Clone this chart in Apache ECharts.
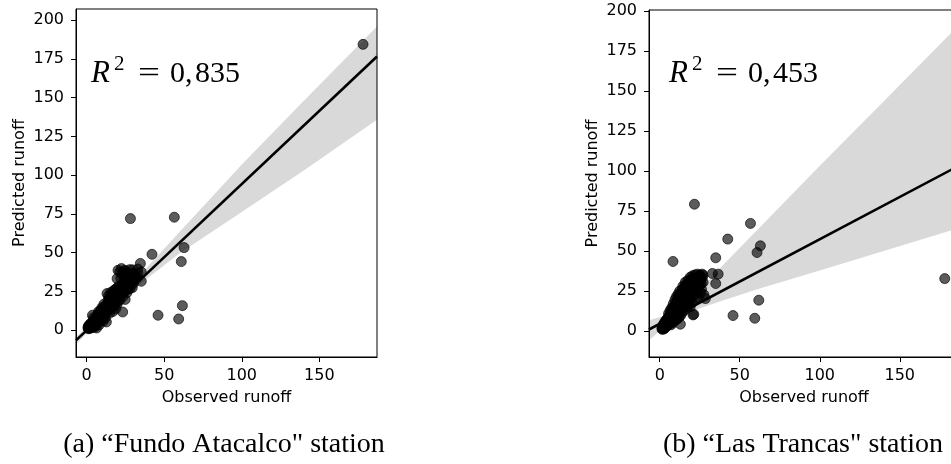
<!DOCTYPE html>
<html>
<head>
<meta charset="utf-8">
<script src="https://cdn.jsdelivr.net/npm/echarts@6/dist/echarts.min.js"></script>
<style>
  html, body { margin: 0; padding: 0; background: #fff; }
  #chart { width: 951px; height: 464px; }
</style>
</head>
<body>
<div id="chart"></div>
<script>
const xTicks = [0, 50, 100, 150];
const yTicks = [0, 25, 50, 75, 100, 125, 150, 175, 200];

// (a) "Fundo Atacalco" - [observed, predicted]
const pointsA = [
  [0.8, 1.6], [1.0, 2.3], [1.1, 1.0], [1.3, 3.0], [1.5, 1.8], [1.6, 2.6], [1.8, 1.2], [1.9, 3.4],
  [2.0, 2.1], [2.2, 4.0], [2.3, 1.5], [2.5, 2.8], [2.6, 3.6], [2.8, 1.9], [2.9, 4.5], [3.0, 2.4],
  [3.2, 3.2], [3.3, 5.0], [3.5, 1.7], [3.6, 3.9], [3.7, 9.7], [3.8, 2.9], [4.0, 4.6], [4.1, 5.6],
  [4.2, 3.4], [4.4, 8.1], [4.5, 2.6], [4.6, 4.9], [4.8, 6.3], [4.9, 3.8], [5.1, 5.5], [5.2, 2.1],
  [5.3, 7.0], [5.5, 4.4], [5.6, 6.1], [5.8, 3.3], [5.9, 7.7], [6.1, 5.2], [6.3, 6.8], [6.4, 1.5],
  [6.5, 4.3], [6.6, 8.5], [6.8, 6.0], [7.0, 7.4], [7.1, 10.2], [7.3, 5.4], [7.5, 8.8], [7.6, 12.0],
  [7.8, 6.7], [8.0, 9.5], [8.1, 3.6], [8.3, 7.9], [8.4, 11.3], [8.6, 8.6], [8.8, 6.2], [8.9, 10.4],
  [9.1, 13.0], [9.3, 8.0], [9.4, 9.6], [9.6, 11.8], [9.8, 14.6], [10.0, 7.3], [10.1, 10.9], [10.3, 12.7],
  [10.5, 9.2], [10.6, 5.9], [10.8, 13.9], [11.0, 11.1], [11.1, 16.8], [11.3, 8.8], [11.5, 12.4], [11.7, 14.9],
  [11.9, 10.3], [12.0, 7.9], [12.2, 13.6], [12.4, 16.1], [12.5, 11.5], [12.7, 5.4], [12.9, 14.4],
  [13.1, 23.7], [13.2, 12.3], [13.4, 17.3], [13.6, 15.1], [13.8, 19.6], [14.0, 13.2], [14.1, 22.2], [14.3, 16.4],
  [14.5, 18.5], [14.7, 11.0], [14.9, 20.7], [15.1, 14.8], [15.3, 17.6], [15.5, 24.4], [15.7, 19.3], [15.9, 13.6],
  [16.1, 21.5], [16.3, 16.7], [16.5, 23.1], [16.7, 18.4], [16.9, 12.1], [17.1, 20.2], [17.3, 25.3], [17.5, 15.4],
  [17.7, 22.7], [17.9, 19.0], [18.1, 26.2], [18.3, 17.2], [18.5, 21.0], [18.7, 13.9], [18.9, 23.9], [19.1, 19.8],
  [19.3, 27.0], [19.5, 16.5], [19.7, 22.4], [20.0, 25.6], [20.2, 18.6], [20.4, 23.0], [20.6, 28.4], [20.8, 21.2],
  [21.1, 24.8], [21.3, 37.6], [21.5, 19.6], [21.8, 27.1], [22.1, 22.9], [22.4, 39.8], [22.6, 25.9], [22.9, 29.8],
  [23.2, 11.8], [23.4, 21.8], [23.7, 27.3], [24.0, 24.6], [24.3, 30.9], [24.5, 38.7], [24.5, 33.4], [24.8, 19.9],
  [25.1, 26.6], [25.4, 29.0], [25.6, 34.4], [25.9, 24.2], [26.2, 28.3], [26.5, 31.7], [26.9, 26.4], [27.3, 29.6],
  [27.7, 39.1], [28.0, 27.0], [28.5, 31.0], [28.8, 34.4], [29.4, 27.5], [30.0, 30.2], [30.9, 32.3], [19.6, 33.3],
  [20.2, 38.7], [23.0, 36.2], [26.3, 37.2], [30.2, 36.8], [33.0, 39.5], [34.6, 43.1], [35.2, 37.6], [35.2, 31.6],
  [32.5, 34.0],
  [2.0, 3.0], [3.0, 3.5], [4.0, 4.0], [5.0, 5.0], [6.0, 6.5], [7.0, 8.0], [8.0, 8.2], [9.0, 9.0],
  [10.0, 10.2], [11.0, 12.5], [12.0, 12.0], [13.0, 14.0], [14.0, 15.5], [15.0, 16.0], [16.0, 17.5], [17.0, 18.0],
  [18.0, 19.5], [19.0, 21.0], [20.0, 21.5], [21.0, 22.5], [22.0, 24.0], [23.0, 24.5], [24.0, 26.5], [25.0, 27.0],
  [26.0, 29.5], [27.0, 30.5], [28.0, 33.0], [29.0, 36.0], [31.0, 35.5], [33.0, 36.5], [22.0, 33.5], [25.0, 38.0],
  [29.5, 39.0],
  [28.2, 72.0], [56.5, 72.9], [62.8, 53.3], [61.0, 44.3], [42.1, 49.0], [46.0, 9.7], [59.3, 7.3], [61.7, 15.9],
  [178.2, 184.3],
];
const fitXA = [-6.9, 187.2];
const fitYA = [-6.5, 176.5];
const bandXA = [-6.9, 0, 10, 20, 40, 60, 100, 140, 187.2];
const bandUpA = [-4.0, 1.8, 10.9, 20.7, 41.7, 63.6, 106.8, 148.0, 195.9];
const bandLoA = [-9.0, -2.0, 7.9, 17.1, 34.2, 49.6, 76.3, 103.0, 135.7];

// (b) "Las Trancas" - [observed, predicted]
const pointsB = [
  [1.4, 1.2], [1.5, 2.1], [1.6, 1.5], [1.7, 2.8], [1.8, 1.0], [1.9, 1.9], [2.0, 3.3], [2.1, 1.4],
  [2.2, 2.5], [2.3, 4.0], [2.4, 1.7], [2.5, 3.0], [2.6, 2.2], [2.7, 4.6], [2.8, 1.3], [2.9, 3.5],
  [3.0, 2.6], [3.1, 5.2], [3.2, 1.9], [3.3, 4.1], [3.4, 3.0], [3.5, 6.0], [3.6, 2.3], [3.7, 4.8],
  [3.8, 3.6], [3.9, 6.6], [4.0, 2.8], [4.2, 5.4], [4.3, 4.1], [4.5, 7.2], [4.6, 3.3], [4.8, 6.0],
  [4.9, 4.7], [5.1, 8.0], [5.2, 3.6], [5.4, 6.7], [5.5, 5.2], [5.7, 9.0], [5.9, 4.3], [6.0, 7.5],
  [6.2, 5.8], [6.3, 10.1], [6.5, 8.2], [6.7, 4.9], [6.9, 11.2], [7.0, 7.0], [7.2, 9.3], [7.4, 12.5],
  [7.6, 6.2], [7.8, 10.5], [8.0, 8.4], [8.1, 13.6], [8.3, 43.4], [8.4, 7.1], [8.6, 11.8], [8.8, 15.0],
  [9.0, 9.5], [9.2, 13.1], [9.4, 6.6], [9.6, 16.3], [9.8, 10.9], [10.0, 14.4], [10.2, 8.3], [10.4, 17.6],
  [10.6, 12.2], [10.8, 19.0], [11.0, 15.6], [11.2, 9.4], [11.4, 20.3], [11.6, 13.7], [11.8, 17.2], [12.0, 22.1],
  [12.2, 11.0], [12.4, 18.8], [12.6, 15.0], [12.9, 4.2], [12.9, 22.3], [13.1, 20.4], [13.3, 13.2], [13.5, 24.0],
  [13.8, 17.8], [14.0, 26.0], [14.3, 21.6], [14.6, 15.4], [14.9, 24.7], [15.2, 19.1], [15.5, 27.4], [15.8, 22.8],
  [16.1, 16.8], [16.4, 28.6], [16.7, 25.3], [17.0, 20.3], [17.3, 29.0], [17.7, 28.6], [18.0, 23.5], [18.3, 31.2],
  [18.6, 26.8], [18.9, 18.6], [19.2, 30.0], [19.5, 24.6], [19.8, 32.1], [20.1, 27.9], [20.4, 21.4], [20.8, 10.0],
  [21.3, 10.4], [20.7, 30.8], [21.0, 33.0], [21.4, 25.8], [21.7, 79.2], [21.8, 29.3], [22.2, 32.6], [22.6, 23.4],
  [23.0, 30.7], [23.4, 33.4], [23.8, 27.5], [24.2, 31.5], [24.7, 34.1], [25.1, 28.8], [25.6, 32.3], [26.1, 26.0],
  [26.6, 33.2], [27.1, 30.4], [27.6, 22.6], [28.5, 20.2],
  [5.5, 10.8], [6.5, 12.8], [7.5, 14.5], [8.5, 17.0], [9.5, 19.5], [10.5, 21.5], [11.5, 23.0], [12.5, 25.0],
  [7.0, 3.8], [8.0, 5.0], [9.0, 6.0], [10.0, 6.8], [11.0, 7.5], [12.0, 8.5], [13.0, 9.5], [14.0, 11.5],
  [15.0, 12.5], [16.0, 14.0], [17.0, 15.5], [18.0, 16.0], [19.0, 15.0], [20.0, 17.5], [22.0, 19.5], [24.0, 21.0],
  [25.5, 24.0], [14.5, 28.0], [16.0, 30.5], [17.5, 31.5], [19.0, 33.5], [20.5, 34.5], [22.0, 35.0], [23.5, 35.5],
  [25.0, 35.0], [26.5, 35.5], [27.0, 34.8], [24.0, 25.5], [26.0, 29.5], [22.5, 28.0], [20.0, 24.5], [18.0, 21.0],
  [16.0, 19.0], [14.0, 18.5], [12.0, 15.5], [10.0, 12.0], [8.0, 9.0], [6.0, 6.5], [4.0, 4.5], [3.0, 3.8],
  [32.9, 35.9], [35.0, 45.7], [35.0, 29.6], [36.5, 35.5],
  [178.1, 32.7], [56.7, 67.2], [42.5, 57.4], [62.9, 53.2], [60.8, 49.0], [61.9, 19.2], [45.8, 9.6], [59.4, 7.9],
];
const fitXB = [-6.7, 187.0];
const fitYB = [0.9, 103.3];
const bandXB = [-6.7, 0, 10, 20, 40, 60, 100, 140, 187.0];
const bandUpB = [6.7, 8.6, 11.9, 20.5, 41.6, 62.1, 103.3, 143.5, 191.3];
const bandLoB = [-5.8, -0.2, 7.5, 12.5, 19.1, 25.8, 37.8, 50.0, 64.3];

const tickFont = { color: '#000', fontFamily: 'DejaVu Sans', fontSize: 16 };

function makeXAxis(gridIndex, min, max) {
  return {
    type: 'value', gridIndex, min, max,
    name: 'Observed runoff', nameLocation: 'middle', nameGap: 33,
    nameTextStyle: tickFont,
    axisLine: { show: true, onZero: false, lineStyle: { color: '#000', width: 1 } },
    axisTick: { show: true, length: 5, customValues: xTicks, lineStyle: { color: '#000', width: 1 } },
    axisLabel: { ...tickFont, margin: 11, customValues: xTicks },
    splitLine: { show: false },
  };
}

function makeYAxis(gridIndex, min, max) {
  return {
    type: 'value', gridIndex, min, max,
    name: 'Predicted runoff', nameLocation: 'middle', nameGap: 48,
    nameTextStyle: tickFont,
    axisLine: { show: true, onZero: false, lineStyle: { color: '#000', width: 1 } },
    axisTick: { show: true, length: 5, customValues: yTicks, lineStyle: { color: '#000', width: 1 } },
    axisLabel: { ...tickFont, margin: 12, customValues: yTicks },
    splitLine: { show: false },
  };
}

function bandSeries(idx, xs, up, lo) {
  return {
    type: 'custom', xAxisIndex: idx, yAxisIndex: idx, silent: true, z: 1,
    data: [[0, 0]],
    renderItem: (params, api) => {
      const top = xs.map((x, i) => api.coord([x, up[i]]));
      const bottom = xs.map((x, i) => api.coord([x, lo[i]])).reverse();
      return {
        type: 'polygon',
        shape: { points: top.concat(bottom) },
        style: { fill: 'rgba(0,0,0,0.15)' },
      };
    },
  };
}

function scatterSeries(idx, points) {
  return {
    type: 'scatter', xAxisIndex: idx, yAxisIndex: idx, z: 2,
    data: points, symbolSize: 10,
    itemStyle: { color: 'rgba(0,0,0,0.8)', borderColor: 'rgba(0,0,0,0.8)', borderWidth: 1 },
  };
}

function fitSeries(idx, xs, ys) {
  return {
    type: 'line', xAxisIndex: idx, yAxisIndex: idx, z: 3,
    data: xs.map((x, i) => [x, ys[i]]), symbol: 'none',
    lineStyle: { color: '#000', width: 2.6 },
  };
}

function r2Label(x, value) {
  return [
    { type: 'text', x, y: 74, style: { text: 'R', font: 'italic 31px "Liberation Serif"', fill: '#000', verticalAlign: 'middle' } },
    { type: 'text', x: x + 23, y: 64, style: { text: '2', font: '21px "Liberation Serif"', fill: '#000', verticalAlign: 'middle' } },
    { type: 'text', x: x + 47, y: 74, scaleX: 1.3, style: { text: '=', font: '30px "Liberation Serif"', fill: '#000', verticalAlign: 'middle' } },
    { type: 'text', x: x + 79, y: 74, style: { text: value, font: '30px "Liberation Serif"', fill: '#000', verticalAlign: 'middle' } },
  ];
}

const chart = echarts.init(document.getElementById('chart'));
chart.setOption({
  animation: false,
  backgroundColor: '#fff',
  grid: [
    { left: 76, top: 9, width: 301, height: 348, show: true, borderColor: '#000', borderWidth: 1, outerBoundsMode: 'none' },
    { left: 649, top: 10, width: 310, height: 347, show: true, borderColor: '#000', borderWidth: 1, outerBoundsMode: 'none' },
  ],
  xAxis: [makeXAxis(0, -6.9, 187.2), makeXAxis(1, -6.7, 187.0)],
  yAxis: [makeYAxis(0, -17.2, 207.1), makeYAxis(1, -16.3, 200.6)],
  series: [
    bandSeries(0, bandXA, bandUpA, bandLoA),
    scatterSeries(0, pointsA),
    fitSeries(0, fitXA, fitYA),
    bandSeries(1, bandXB, bandUpB, bandLoB),
    scatterSeries(1, pointsB),
    fitSeries(1, fitXB, fitYB),
  ],
  graphic: [
    ...r2Label(91, '0,\u200a835'),
    ...r2Label(669, '0,\u200a453'),
    { type: 'text', x: 224, y: 445, style: { text: '(a) \u201cFundo Atacalco" station', font: '28px "Liberation Serif"', fill: '#000', align: 'center', verticalAlign: 'middle' } },
    { type: 'text', x: 803, y: 445, style: { text: '(b) \u201cLas Trancas" station', font: '28px "Liberation Serif"', fill: '#000', align: 'center', verticalAlign: 'middle' } },
  ],
});
</script>
</body>
</html>
